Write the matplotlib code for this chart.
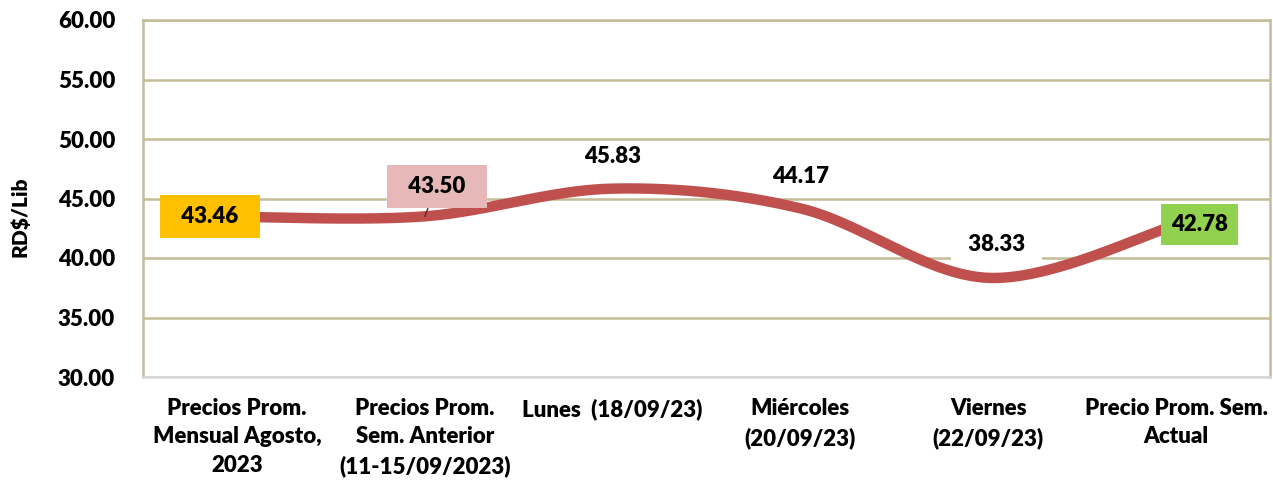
import numpy as np
import matplotlib
matplotlib.use('Agg')
import matplotlib.pyplot as plt

plt.rcParams['font.family'] = ['Lato', 'DejaVu Sans']

categories = ["Precios Prom.\nMensual Agosto,\n2023",
              "Precios Prom.\nSem. Anterior\n(11-15/09/2023)",
              "Lunes  (18/09/23)",
              "Miércoles\n(20/09/23)",
              "Viernes\n(22/09/23)",
              "Precio Prom. Sem.\nActual"]
values = [43.46, 43.50, 45.83, 44.17, 38.33, 42.78]
value_labels = ["43.46", "43.50", "45.83", "44.17", "38.33", "42.78"]
yticks = [30, 35, 40, 45, 50, 55, 60]
ytick_labels = ["30.00", "35.00", "40.00", "45.00", "50.00", "55.00", "60.00"]

W, H = 1273, 483
fig = plt.figure(figsize=(W / 100, H / 100), dpi=100)
ax = fig.add_axes([143 / W, 1 - 377 / H, 1127 / W, 357 / H])

GRID = '#C4BD97'
LINE = '#C0504D'
FW = 'heavy'
FS = 16


def smooth(x, y, n=60):
    P = np.column_stack([x, y]).astype(float)
    ext = np.vstack([P[0], P, P[-1]])
    out = []
    t = np.linspace(0, 1, n)[:, None]
    for i in range(len(P) - 1):
        p0, p1, p2, p3 = ext[i], ext[i + 1], ext[i + 2], ext[i + 3]
        c1 = p1 + (p2 - p0) / 6
        c2 = p2 - (p3 - p1) / 6
        seg = (1 - t) ** 3 * p1 + 3 * (1 - t) ** 2 * t * c1 + 3 * (1 - t) * t ** 2 * c2 + t ** 3 * p2
        out.append(seg if i == 0 else seg[1:])
    return np.vstack(out)


x = np.arange(len(values))
curve = smooth(x, values)
ax.plot(curve[:, 0], curve[:, 1], color=LINE, lw=7.5, solid_capstyle='butt', zorder=3)

ax.set_xlim(-0.5, len(values) - 0.5)
ax.set_ylim(30, 60)
ax.set_yticks(yticks)
ax.set_yticklabels(ytick_labels)
ax.set_xticks(x)
ax.set_xticklabels(categories)
ax.tick_params(axis='y', length=0, pad=20, labelsize=FS)
ax.tick_params(axis='x', length=0, pad=15, labelsize=FS)
for lab in ax.get_xticklabels() + ax.get_yticklabels():
    lab.set_fontweight(FW)
for lab in ax.get_xticklabels():
    lab.set_linespacing(1.45)
ax.yaxis.grid(True, color=GRID, lw=1.8)
ax.set_axisbelow(True)
for s in ['left', 'right', 'top']:
    ax.spines[s].set_color(GRID)
    ax.spines[s].set_linewidth(1.8)
ax.spines['bottom'].set_color('#D9D9D9')
ax.spines['bottom'].set_linewidth(1.8)

fig.text(20 / W, 1 - 217 / H, "RD$/Lib", rotation=90, ha='center', va='center',
         fontsize=15, fontweight=FW)

offsets = [(-27, 0), (12, 30), (0, 32), (0, 32), (8, 33), (23, 0)]
boxes = [dict(boxstyle='square,pad=0.5', fc='#FFC000', ec='none'),
         dict(boxstyle='square,pad=0.5', fc='#E6B9B8', ec='none'),
         None, None,
         dict(boxstyle='square,pad=0.3', fc='white', ec='none'),
         dict(boxstyle='square,pad=0.45', fc='#92D050', ec='none')]
texts = ["  " + value_labels[0] + "  ", "  " + value_labels[1] + "  ", value_labels[2],
         value_labels[3], "  " + value_labels[4] + "  ", value_labels[5]]
for i, v in enumerate(values):
    kw = {}
    if i == 1:
        kw['arrowprops'] = dict(arrowstyle='-', color='#5a2a2a', lw=1, shrinkA=0, shrinkB=0)
    ax.annotate(texts[i], xy=(i, v), xytext=offsets[i], textcoords='offset pixels',
                ha='center', va='center', fontsize=FS, fontweight=FW, color='black',
                bbox=boxes[i], zorder=5, **kw)

fig.savefig('out.png', dpi=100)
